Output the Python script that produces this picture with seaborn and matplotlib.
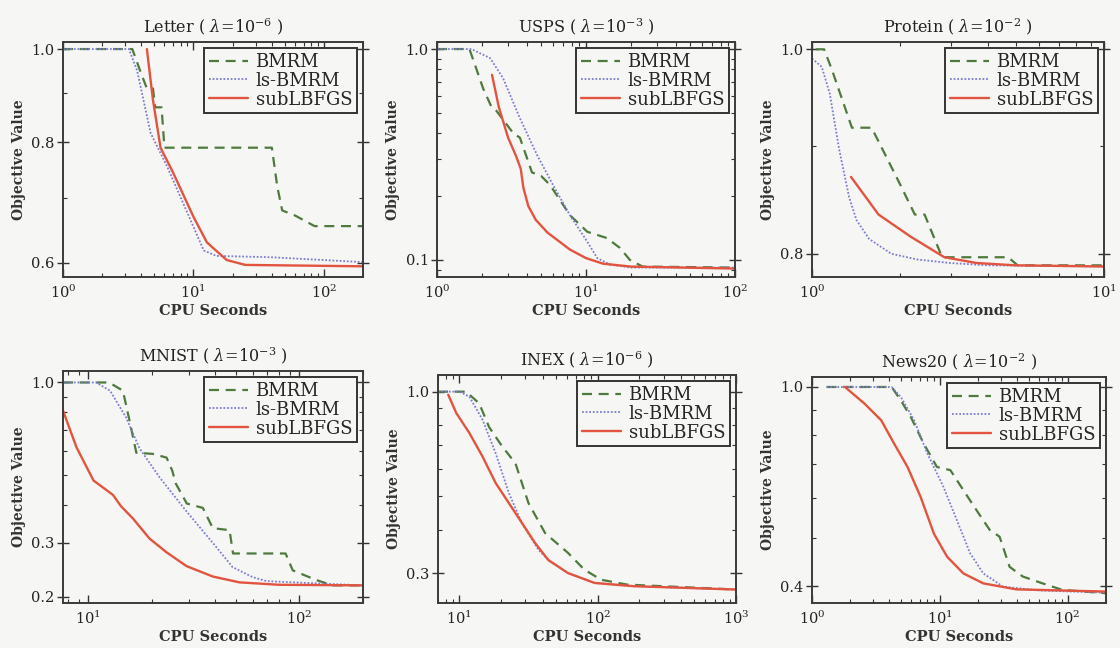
import numpy as np
import pandas as pd
import seaborn as sns
import matplotlib
matplotlib.use("Agg")
import matplotlib.pyplot as plt
from matplotlib.ticker import FixedLocator, FormatStrFormatter, NullFormatter, LogLocator

# ---------------- data ----------------
methods = ["BMRM", "ls-BMRM", "subLBFGS"]

# Letter (lambda = 1e-6)
letter_bmrm_x = [1.0, 3.4, 3.9, 4.4, 4.9, 5.1, 5.7, 6.0, 40, 44, 48, 60, 85, 200]
letter_bmrm_y = [1.0, 1.0, 0.95, 0.91, 0.91, 0.87, 0.87, 0.79, 0.79, 0.72, 0.68, 0.672, 0.655, 0.655]
letter_ls_x = [1.0, 3.2, 3.7, 4.7, 6.3, 9.0, 12, 15, 40, 100, 200]
letter_ls_y = [1.0, 1.0, 0.95, 0.818, 0.755, 0.676, 0.618, 0.61, 0.608, 0.604, 0.601]
letter_sub_x = [4.4, 4.9, 5.6, 7.0, 10, 12.7, 18, 25, 200]
letter_sub_y = [1.0, 0.885, 0.79, 0.744, 0.67, 0.63, 0.604, 0.597, 0.595]

# USPS (lambda = 1e-3)
usps_bmrm_x = [1.0, 1.65, 1.8, 2.04, 2.34, 2.5, 3.24, 3.6, 4.34, 5.0, 5.73, 7.8, 10.2, 13.8, 16.9, 19.7, 24, 100]
usps_bmrm_y = [1.0, 1.0, 0.84, 0.65, 0.525, 0.51, 0.40, 0.38, 0.26, 0.25, 0.227, 0.163, 0.136, 0.127, 0.114, 0.10, 0.093, 0.092]
usps_ls_x = [1.0, 1.7, 2.27, 2.77, 3.6, 4.69, 6.0, 7.8, 10.2, 11.9, 14.5, 20, 100]
usps_ls_y = [1.0, 1.0, 0.906, 0.73, 0.47, 0.315, 0.227, 0.163, 0.122, 0.102, 0.095, 0.092, 0.092]
usps_sub_x = [2.34, 2.6, 3.0, 3.4, 3.65, 3.8, 4.1, 4.6, 5.5, 7.8, 10, 13, 20, 100]
usps_sub_y = [0.755, 0.53, 0.38, 0.31, 0.27, 0.22, 0.18, 0.155, 0.135, 0.112, 0.102, 0.096, 0.093, 0.091]

# Protein (lambda = 1e-2)
protein_bmrm_x = [1.03, 1.1, 1.17, 1.37, 1.6, 1.97, 2.25, 2.43, 2.79, 4.7, 5.06, 10]
protein_bmrm_y = [1.0, 1.0, 0.978, 0.918, 0.918, 0.867, 0.835, 0.835, 0.797, 0.797, 0.79, 0.79]
protein_ls_x = [1.0, 1.08, 1.15, 1.24, 1.34, 1.42, 1.57, 1.87, 2.3, 2.97, 4.0, 10]
protein_ls_y = [0.99, 0.981, 0.953, 0.896, 0.851, 0.83, 0.813, 0.80, 0.795, 0.792, 0.79, 0.789]
protein_sub_x = [1.36, 1.69, 2.18, 2.84, 3.66, 4.98, 10]
protein_sub_y = [0.87, 0.835, 0.815, 0.797, 0.792, 0.79, 0.789]

# MNIST (lambda = 1e-3)
mnist_bmrm_x = [7.6, 12.5, 13.2, 14.6, 15.7, 16.9, 20.2, 23.5, 25, 26, 29.3, 34.9, 38.9, 46.7, 48.5, 86, 93, 120, 144, 200]
mnist_bmrm_y = [1.0, 1.0, 0.98, 0.94, 0.75, 0.59, 0.585, 0.569, 0.516, 0.468, 0.403, 0.39, 0.335, 0.33, 0.277, 0.277, 0.244, 0.227, 0.218, 0.218]
mnist_ls_x = [7.6, 10.9, 12.7, 15.1, 17.5, 21.8, 25, 29.2, 38.9, 48.3, 60, 70, 200]
mnist_ls_y = [1.0, 1.0, 0.94, 0.77, 0.61, 0.49, 0.435, 0.38, 0.30, 0.25, 0.232, 0.225, 0.218]
mnist_sub_x = [7.6, 8.8, 10.6, 13.1, 14.3, 16.3, 19.5, 23.4, 29.2, 38.9, 52, 80, 200]
mnist_sub_y = [0.81, 0.615, 0.479, 0.43, 0.395, 0.36, 0.31, 0.28, 0.252, 0.233, 0.223, 0.219, 0.218]

# INEX (lambda = 1e-6)
inex_bmrm_x = [7.0, 11.2, 13.9, 16.4, 20.4, 25.4, 31.6, 41.7, 61, 80, 106, 163, 1000]
inex_bmrm_y = [1.0, 1.0, 0.925, 0.79, 0.695, 0.622, 0.477, 0.391, 0.343, 0.307, 0.287, 0.278, 0.269]
inex_ls_x = [7.0, 10, 11.8, 14.7, 18.3, 22.8, 28.3, 37.3, 44, 61, 95, 183, 1000]
inex_ls_y = [1.0, 1.0, 0.967, 0.83, 0.664, 0.51, 0.418, 0.35, 0.327, 0.30, 0.281, 0.275, 0.269]
inex_sub_x = [8.3, 9.5, 11.8, 14.7, 18.3, 25.4, 35.3, 44, 61, 95, 183, 1000]
inex_sub_y = [0.98, 0.867, 0.76, 0.65, 0.545, 0.447, 0.366, 0.327, 0.30, 0.281, 0.275, 0.269]

# News20 (lambda = 1e-2)
news_bmrm_x = [1.3, 4.2, 4.96, 5.93, 7.5, 9.5, 12.1, 15.3, 19.4, 24.6, 29.4, 35.2, 44.6, 63.7, 91, 200]
news_bmrm_y = [1.0, 1.0, 0.94, 0.871, 0.77, 0.692, 0.682, 0.622, 0.567, 0.518, 0.502, 0.437, 0.418, 0.405, 0.393, 0.387]
news_ls_x = [1.3, 4.2, 4.96, 6.3, 8.0, 10.7, 13.6, 17.3, 21.9, 31.2, 60, 200]
news_ls_y = [1.0, 1.0, 0.955, 0.858, 0.736, 0.631, 0.542, 0.465, 0.424, 0.399, 0.392, 0.388]
news_sub_x = [1.81, 2.58, 3.48, 4.4, 5.59, 7.08, 9.0, 11.4, 15.3, 21.9, 39.6, 200]
news_sub_y = [1.0, 0.926, 0.858, 0.77, 0.692, 0.603, 0.509, 0.458, 0.424, 0.405, 0.394, 0.39]

titles = [r"Letter ( $\lambda\!=\!10^{-6}$ )", r"USPS ( $\lambda\!=\!10^{-3}$ )",
          r"Protein ( $\lambda\!=\!10^{-2}$ )", r"MNIST ( $\lambda\!=\!10^{-3}$ )",
          r"INEX ( $\lambda\!=\!10^{-6}$ )", r"News20 ( $\lambda\!=\!10^{-2}$ )"]

panel_series = [
    [(letter_bmrm_x, letter_bmrm_y), (letter_ls_x, letter_ls_y), (letter_sub_x, letter_sub_y)],
    [(usps_bmrm_x, usps_bmrm_y), (usps_ls_x, usps_ls_y), (usps_sub_x, usps_sub_y)],
    [(protein_bmrm_x, protein_bmrm_y), (protein_ls_x, protein_ls_y), (protein_sub_x, protein_sub_y)],
    [(mnist_bmrm_x, mnist_bmrm_y), (mnist_ls_x, mnist_ls_y), (mnist_sub_x, mnist_sub_y)],
    [(inex_bmrm_x, inex_bmrm_y), (inex_ls_x, inex_ls_y), (inex_sub_x, inex_sub_y)],
    [(news_bmrm_x, news_bmrm_y), (news_ls_x, news_ls_y), (news_sub_x, news_sub_y)],
]

y_ticks = [[0.6, 0.8, 1.0], [0.1, 1.0], [0.8, 1.0], [0.2, 0.3, 1.0], [0.3, 1.0], [0.4, 1.0]]
x_limits = [(1, 200), (1, 100), (1, 10), (7.6, 200), (7, 1000), (1, 200)]
y_limits = [(0.58, 1.017), (0.083, 1.08), (0.78, 1.008), (0.191, 1.09), (0.246, 1.117), (0.37, 1.047)]

# ---------------- style ----------------
sns.set_theme(style="ticks")
plt.rcParams["font.family"] = ["DejaVu Serif"]
plt.rcParams["mathtext.fontset"] = "dejavuserif"
bg = "#f6f6f4"
plt.rcParams["figure.facecolor"] = bg
plt.rcParams["axes.facecolor"] = bg

colors = {"BMRM": "#4f7a3e", "ls-BMRM": "#7c7cd2", "subLBFGS": "#e2543f"}
styles = {"BMRM": (0, (4.5, 3.0)), "ls-BMRM": (0, (1.0, 1.0)), "subLBFGS": "-"}
widths = {"BMRM": 1.6, "ls-BMRM": 1.3, "subLBFGS": 1.7}

W, H = 1120, 648
fig = plt.figure(figsize=(11.2, 6.48), dpi=100)

# pixel rectangles (left, top, right, bottom)
rects = [(63, 42, 363, 277), (437, 42, 735, 277), (812, 42, 1104, 277),
         (63, 371, 363, 603), (438, 375, 736, 603), (812, 377, 1106, 603)]

for i, (l, t, r, b) in enumerate(rects):
    ax = fig.add_axes([l / W, 1 - b / H, (r - l) / W, (b - t) / H])
    ax.set_xscale("log")
    ax.set_yscale("log")
    for m, (xs, ys) in zip(methods, panel_series[i]):
        df = pd.DataFrame({"x": xs, "y": ys})
        sns.lineplot(data=df, x="x", y="y", ax=ax, color=colors[m], linestyle=styles[m],
                     linewidth=widths[m], label=m, estimator=None, sort=False)
    ax.set_xlim(*x_limits[i])
    ax.set_ylim(*y_limits[i])
    ax.yaxis.set_major_locator(FixedLocator(y_ticks[i]))
    ax.yaxis.set_major_formatter(FormatStrFormatter("%.1f"))
    ax.yaxis.set_minor_locator(LogLocator(base=10, subs=np.arange(2, 10)))
    ax.yaxis.set_minor_formatter(NullFormatter())
    ax.xaxis.set_minor_formatter(NullFormatter())
    ax.tick_params(axis="both", which="both", top=True, right=True, colors="#333333",
                   labelcolor="#222222", labelsize=10.5)
    ax.tick_params(axis="x", which="major", direction="in", length=6, width=1.0, pad=5)
    ax.tick_params(axis="x", which="minor", direction="in", length=3, width=0.8)
    ax.tick_params(axis="y", which="major", direction="inout", length=8, width=1.0, pad=2)
    ax.tick_params(axis="y", which="minor", direction="in", length=3, width=0.8)
    for sp in ax.spines.values():
        sp.set_color("#3a3a3a")
        sp.set_linewidth(1.4)
    ax.set_title(titles[i], fontsize=11.5, pad=7, color="#222222")
    ax.set_xlabel("CPU Seconds", fontsize=10.5, fontweight="bold", color="#333333", labelpad=2)
    ax.set_ylabel("Objective Value", fontsize=10, fontweight="bold", color="#333333", labelpad=4)
    leg = ax.legend(loc="upper right", fontsize=13, frameon=True, fancybox=False,
                    handlelength=2.2, handletextpad=0.4, borderpad=0.25, labelspacing=0.05,
                    borderaxespad=0.35)
    leg.get_frame().set_edgecolor("#333333")
    leg.get_frame().set_linewidth(1.4)
    leg.get_frame().set_facecolor(bg)
    leg.get_frame().set_alpha(1.0)

fig.savefig("out.png", dpi=100, facecolor=bg)
